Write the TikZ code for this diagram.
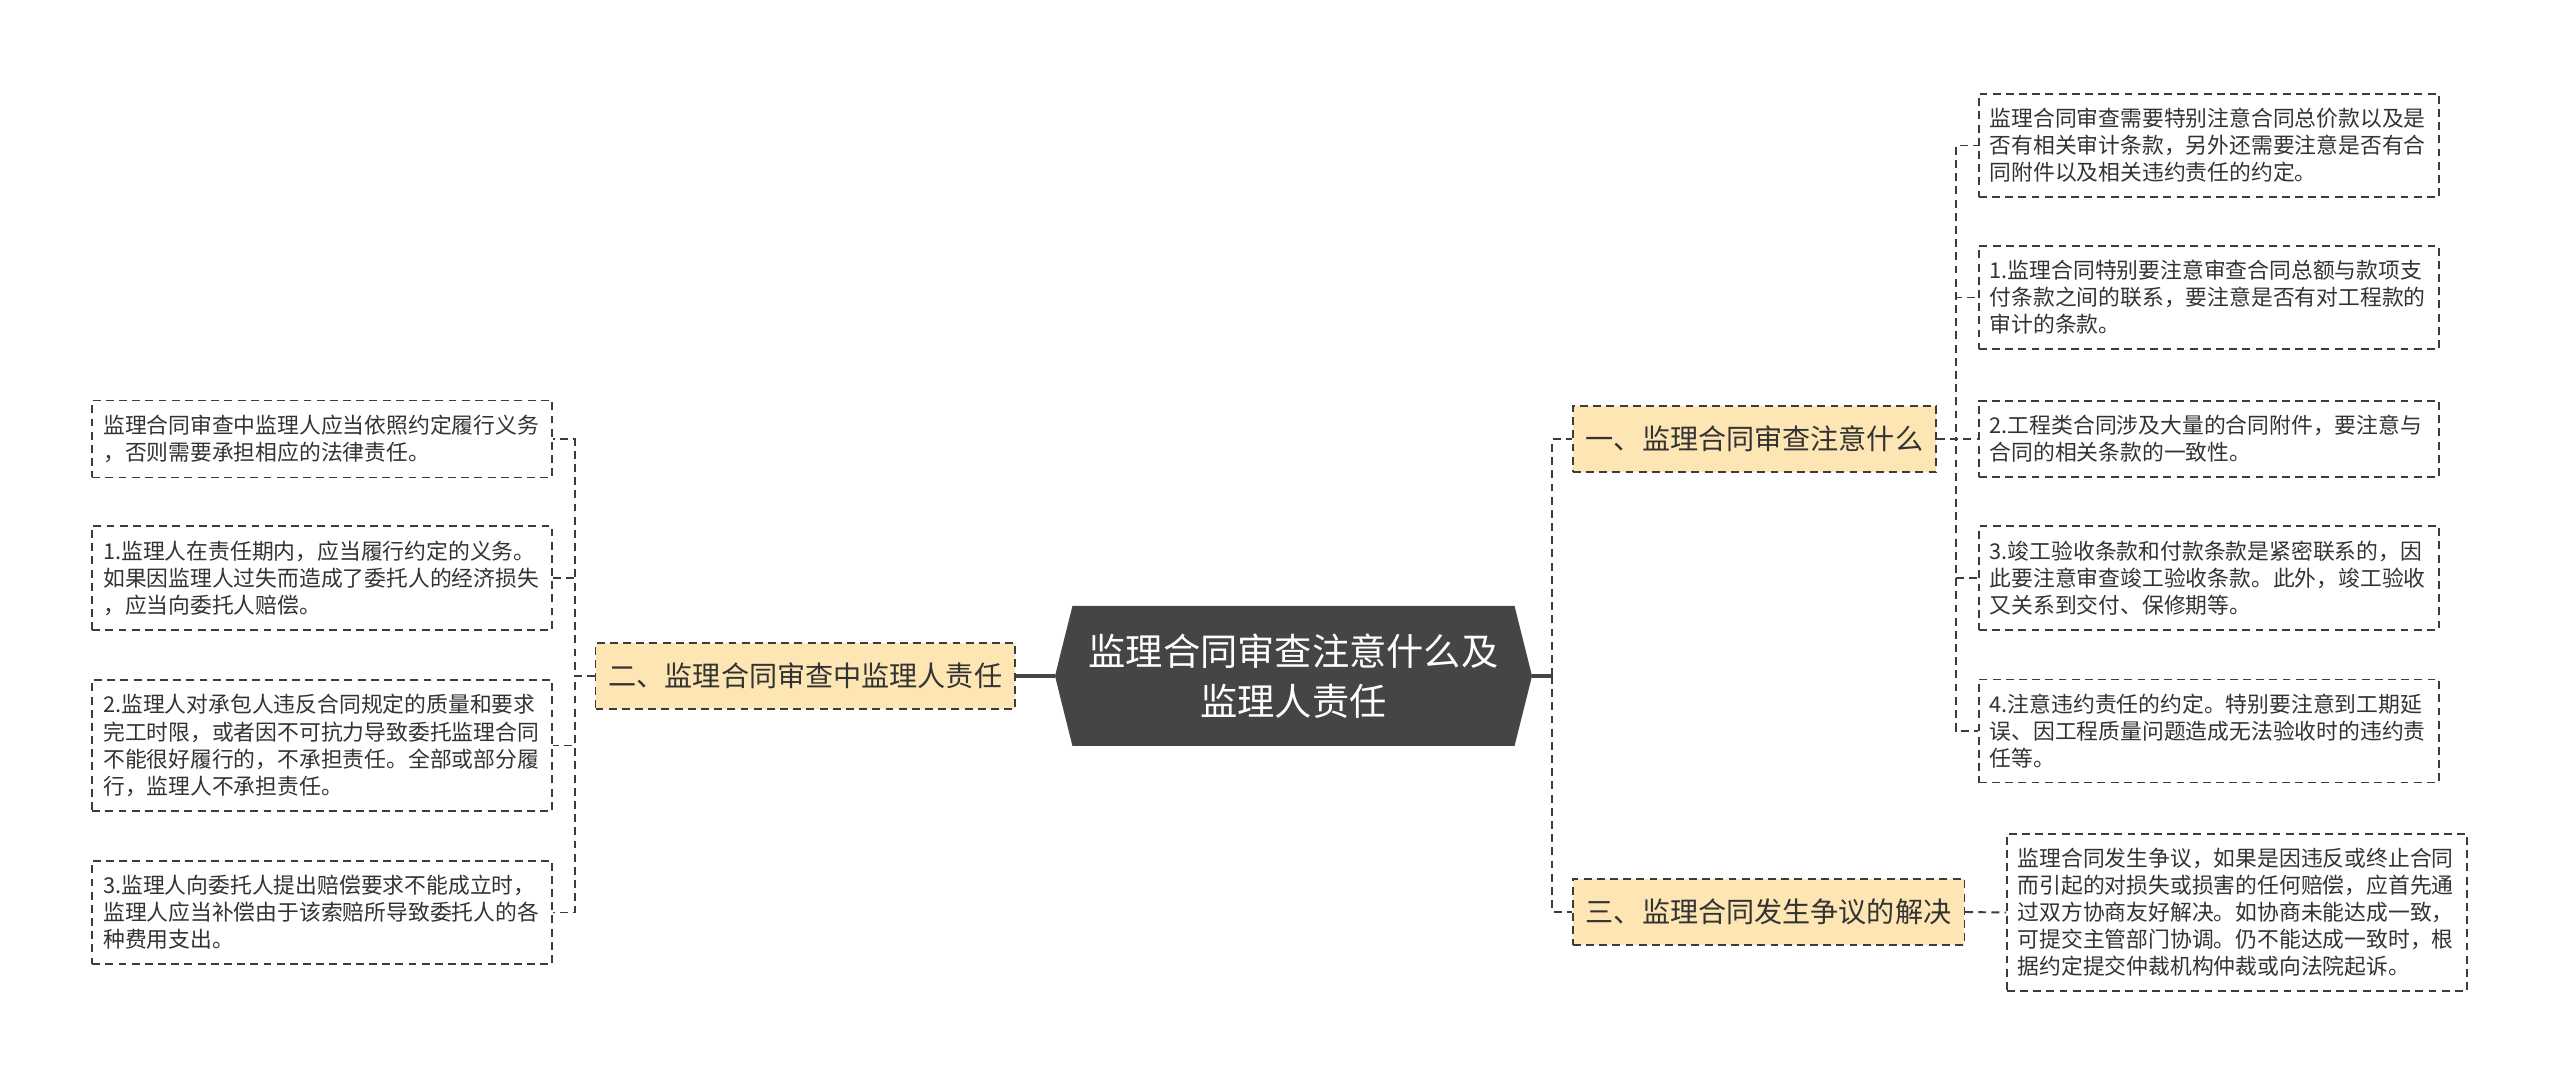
\documentclass[tikz,border=0pt]{standalone}
\usepackage{fontspec}
\newfontfamily\cjk{Noto Sans CJK SC}
\usetikzlibrary{shapes.symbols}
\definecolor{rootgray}{HTML}{454545}
\definecolor{branchfill}{HTML}{FDE6B4}
\definecolor{linegray}{HTML}{3C3C3C}
\definecolor{textgray}{HTML}{333333}

\begin{document}
\begin{tikzpicture}[
root/.style ={signal, signal to=east and west, signal pointer angle=152, fill=rootgray, text=white, align=center, minimum width=9.54cm, minimum height=2.8cm, inner sep=0pt, font=\cjk\fontsize{21.2}{28.5}\selectfont},
branch/.style ={rectangle, draw=linegray, line width=0.9pt, dash pattern=on 4.5pt off 3pt, fill=branchfill, text=textgray, minimum height=1.32cm, inner xsep=0.26cm, font=\cjk\fontsize{16}{19}\selectfont},
leaf/.style ={rectangle, draw=linegray, line width=0.9pt, dash pattern=on 4.5pt off 3pt, text=textgray, text width=8.76cm, align=left, inner xsep=0.22cm, inner ysep=0.29cm, font=\cjk\fontsize{12.4}{15.4}\selectfont},
link/.style ={draw=linegray, line width=1.1pt, dash pattern=on 4.5pt off 3pt},
trunk/.style ={draw=rootgray, line width=2.2pt}
]
\fill[white] (0,0) rectangle (51.2,21.76);
\useasboundingbox (0,0) rectangle (51.2,21.76);
\draw (25.87,8.24) node[root] (C) {监理合同审查注意什么及\\监理人责任};
\draw (20.32,8.24) node[branch,anchor=east] (B2) {二、监理合同审查中监理人责任};
\draw (31.44,12.98) node[branch,anchor=west] (B1) {一、监理合同审查注意什么};
\draw (31.44,3.52) node[branch,anchor=west] (B3) {三、监理合同发生争议的解决};
% right side leaves
\draw (39.56,18.85) node[leaf,anchor=west] (R1) {监理合同审查需要特别注意合同总价款以及是\\否有相关审计条款，另外还需要注意是否有合\\同附件以及相关违约责任的约定。};
\draw (39.56,15.81) node[leaf,anchor=west] (R2) {1.监理合同特别要注意审查合同总额与款项支\\付条款之间的联系，要注意是否有对工程款的\\审计的条款。};
\draw (39.56,12.98) node[leaf,anchor=west] (R3) {2.工程类合同涉及大量的合同附件，要注意与\\合同的相关条款的一致性。};
\draw (39.56,10.20) node[leaf,anchor=west] (R4) {3.竣工验收条款和付款条款是紧密联系的，因\\此要注意审查竣工验收条款。此外，竣工验收\\又关系到交付、保修期等。};
\draw (39.56,7.14) node[leaf,anchor=west] (R5) {4.注意违约责任的约定。特别要注意到工期延\\误、因工程质量问题造成无法验收时的违约责\\任等。};
\draw (40.12,3.51) node[leaf,anchor=west] (R6) {监理合同发生争议，如果是因违反或终止合同\\而引起的对损失或损害的任何赔偿，应首先通\\过双方协商友好解决。如协商未能达成一致，\\可提交主管部门协调。仍不能达成一致时，根\\据约定提交仲裁机构仲裁或向法院起诉。};
% left side leaves
\draw (11.06,12.98) node[leaf,anchor=east] (L1) {监理合同审查中监理人应当依照约定履行义务\\，否则需要承担相应的法律责任。};
\draw (11.06,10.20) node[leaf,anchor=east] (L2) {1.监理人在责任期内，应当履行约定的义务。\\如果因监理人过失而造成了委托人的经济损失\\，应当向委托人赔偿。};
\draw (11.06,6.85) node[leaf,anchor=east] (L3) {2.监理人对承包人违反合同规定的质量和要求\\完工时限，或者因不可抗力导致委托监理合同\\不能很好履行的，不承担责任。全部或部分履\\行，监理人不承担责任。};
\draw (11.06,3.51) node[leaf,anchor=east] (L4) {3.监理人向委托人提出赔偿要求不能成立时，\\监理人应当补偿由于该索赔所导致委托人的各\\种费用支出。};
\draw[trunk] (C.west)--(B2.east);
\draw[trunk] (C.east)--++(0.4,0) coordinate (rt);
\draw[link] (rt) |- (B1.west);
\draw[link] (rt) |- (B3.west);
\draw[link] (B2.west)--++(-0.4,0) |- (L1.east);
\draw[link] (B2.west)--++(-0.4,0) |- (L2.east);
\draw[link] (B2.west)--++(-0.4,0) |- (L3.east);
\draw[link] (B2.west)--++(-0.4,0) |- (L4.east);
\draw[link] (B1.east)--++(0.38,0) |- (R1.west);
\draw[link] (B1.east)--++(0.38,0) |- (R2.west);
\draw[link] (B1.east)--++(0.38,0) |- (R3.west);
\draw[link] (B1.east)--++(0.38,0) |- (R4.west);
\draw[link] (B1.east)--++(0.38,0) |- (R5.west);
\draw[link] (B3.east)--(R6.west);
\end{tikzpicture}
\end{document}
